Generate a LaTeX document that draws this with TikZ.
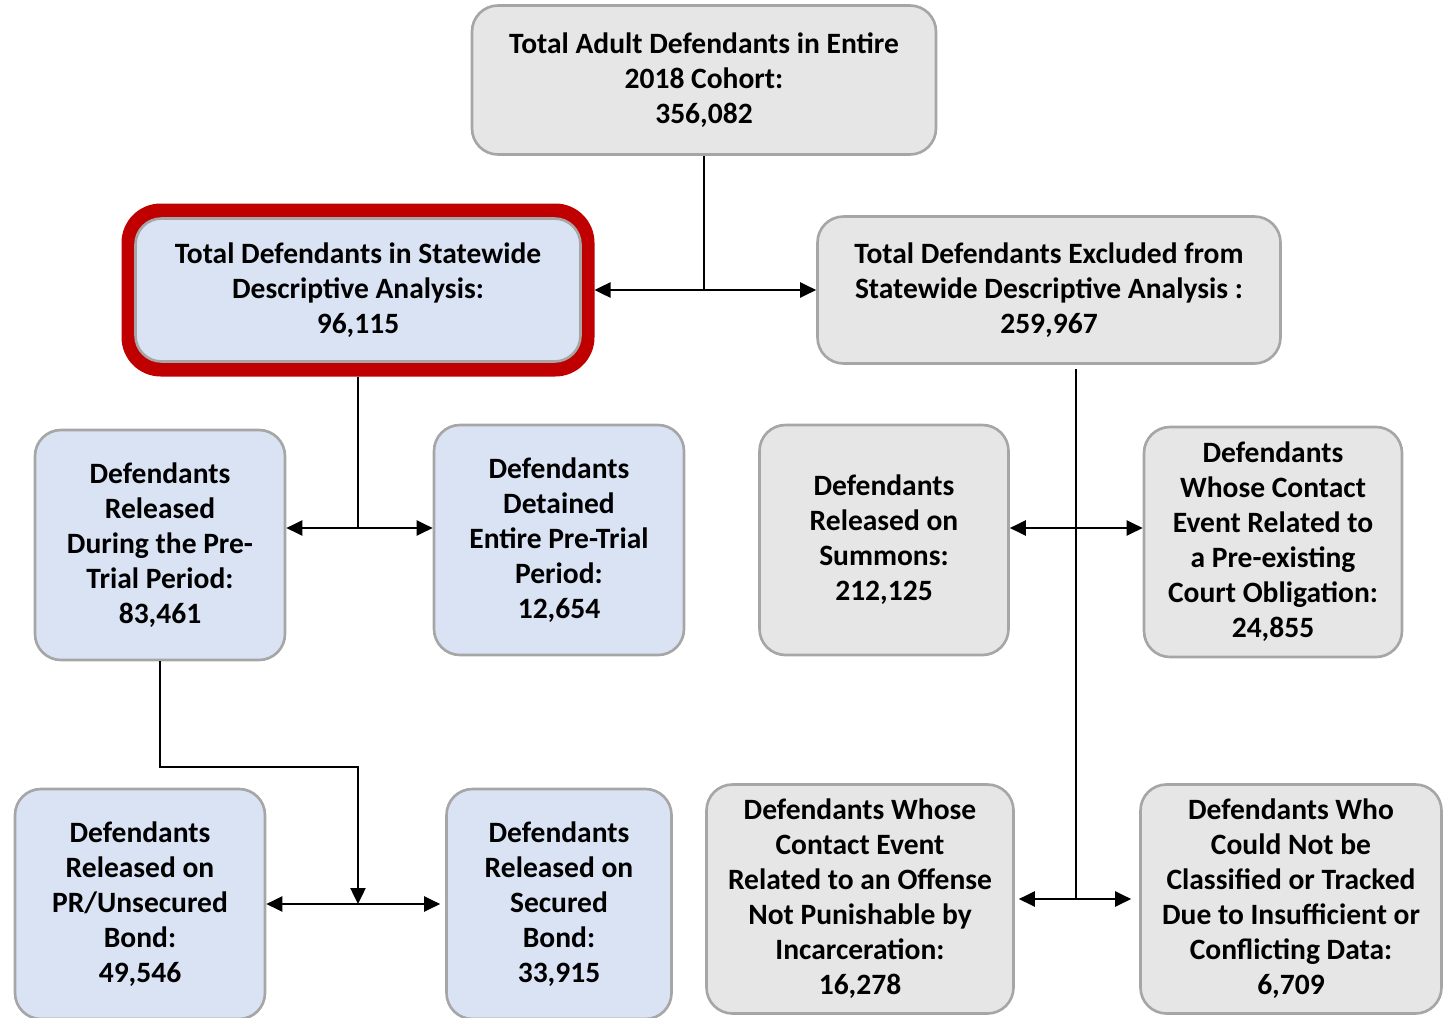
\documentclass[tikz,border=0pt]{standalone}
\usepackage{fontspec}
\setmainfont{Carlito}
\usetikzlibrary{arrows.meta}
\definecolor{boxgray}{HTML}{E7E6E6}
\definecolor{boxblue}{HTML}{DAE3F3}
\definecolor{edgegray}{HTML}{A6A6A6}
\definecolor{framered}{HTML}{C00000}
\tikzset{
  box/.style={draw=edgegray, line width=0.75pt, rounded corners=2.6mm, align=center,
    inner sep=0pt, font=\fontsize{8.4}{9.96}\selectfont\bfseries},
  graybox/.style={box, fill=boxgray},
  bluebox/.style={box, fill=boxblue},
  tip/.tip={Triangle[length=1.6mm,width=1.5mm]},
  conn/.style={line width=0.7pt, tip-tip},
  feed/.style={line width=0.7pt, -tip},
  trunk/.style={line width=0.4pt},
}
\begin{document}
\begin{tikzpicture}[x=0.1mm,y=-0.1mm]
\useasboundingbox (0,0) rectangle (1447,1018);

\node[graybox, minimum width=46.4mm, minimum height=14.9mm] (cohort) at (704,80)
  {Total Adult Defendants in Entire\\2018 Cohort:\\356,082};
\node[draw=framered, line width=1.45mm, rounded corners=3.2mm,
  minimum width=45.85mm, minimum height=15.85mm] (frame) at (358,290) {};
\node[bluebox, minimum width=44.5mm, minimum height=14.3mm] (incl) at (358,290)
  {Total Defendants in Statewide\\Descriptive Analysis:\\96,115};
\node[graybox, minimum width=46.3mm, minimum height=14.7mm] (excl) at (1049,290)
  {Total Defendants Excluded from\\Statewide Descriptive Analysis :\\259,967};

\node[bluebox, minimum width=25mm, minimum height=23mm] (rel) at (160,545)
  {Defendants\\Released\\During the Pre-\\Trial Period:\\83,461};
\node[bluebox, minimum width=25mm, minimum height=23mm] (det) at (559,540)
  {Defendants\\Detained\\Entire Pre-Trial\\Period:\\12,654};
\node[graybox, minimum width=24.9mm, minimum height=23mm] (summ) at (884,540)
  {Defendants\\Released on\\Summons:\\212,125};
\node[graybox, minimum width=25.8mm, minimum height=23mm] (oblig) at (1273,542)
  {Defendants\\Whose Contact\\Event Related to\\a Pre-existing\\Court Obligation:\\24,855};

\node[bluebox, minimum width=25mm, minimum height=23mm] (prbond) at (140,904)
  {Defendants\\Released on\\PR/Unsecured\\Bond:\\49,546};
\node[bluebox, minimum width=22.5mm, minimum height=23mm] (secbond) at (559,904)
  {Defendants\\Released on\\Secured\\Bond:\\33,915};
\node[graybox, minimum width=30.7mm, minimum height=22.9mm] (offense) at (860,899)
  {Defendants Whose\\Contact Event\\Related to an Offense\\Not Punishable by\\Incarceration:\\16,278};
\node[graybox, minimum width=30.1mm, minimum height=22.9mm] (tracked) at (1291,899)
  {Defendants Who\\Could Not be\\Classified or Tracked\\Due to Insufficient or\\Conflicting Data:\\6,709};

\coordinate (splitA) at (358,528);
\coordinate (splitB) at (1076,528);
\coordinate (splitC) at (358,904);
\coordinate (splitD) at (1076,898);

\draw[line width=0.7pt] (cohort.south) -- (cohort.south |- frame.east);
\draw[conn] (frame.east) -- (excl.west);

\draw[trunk] (frame.south) -- (splitA);
\draw[conn] (splitA -| rel.east) -- (splitA -| det.west);
\draw[feed] (rel.south) -- (rel.south |- 0,767) -| (splitC);
\draw[conn, shorten >=0.5mm] (prbond.east) -- (secbond.west);

\draw[trunk] (excl.south -| splitD) ++(0,4) -- (splitD);
\draw[conn] (splitB -| summ.east) -- (splitB -| oblig.west);
\draw[conn, shorten <=0.4mm, shorten >=0.8mm] (offense.east) -- (tracked.west);
\end{tikzpicture}
\end{document}
